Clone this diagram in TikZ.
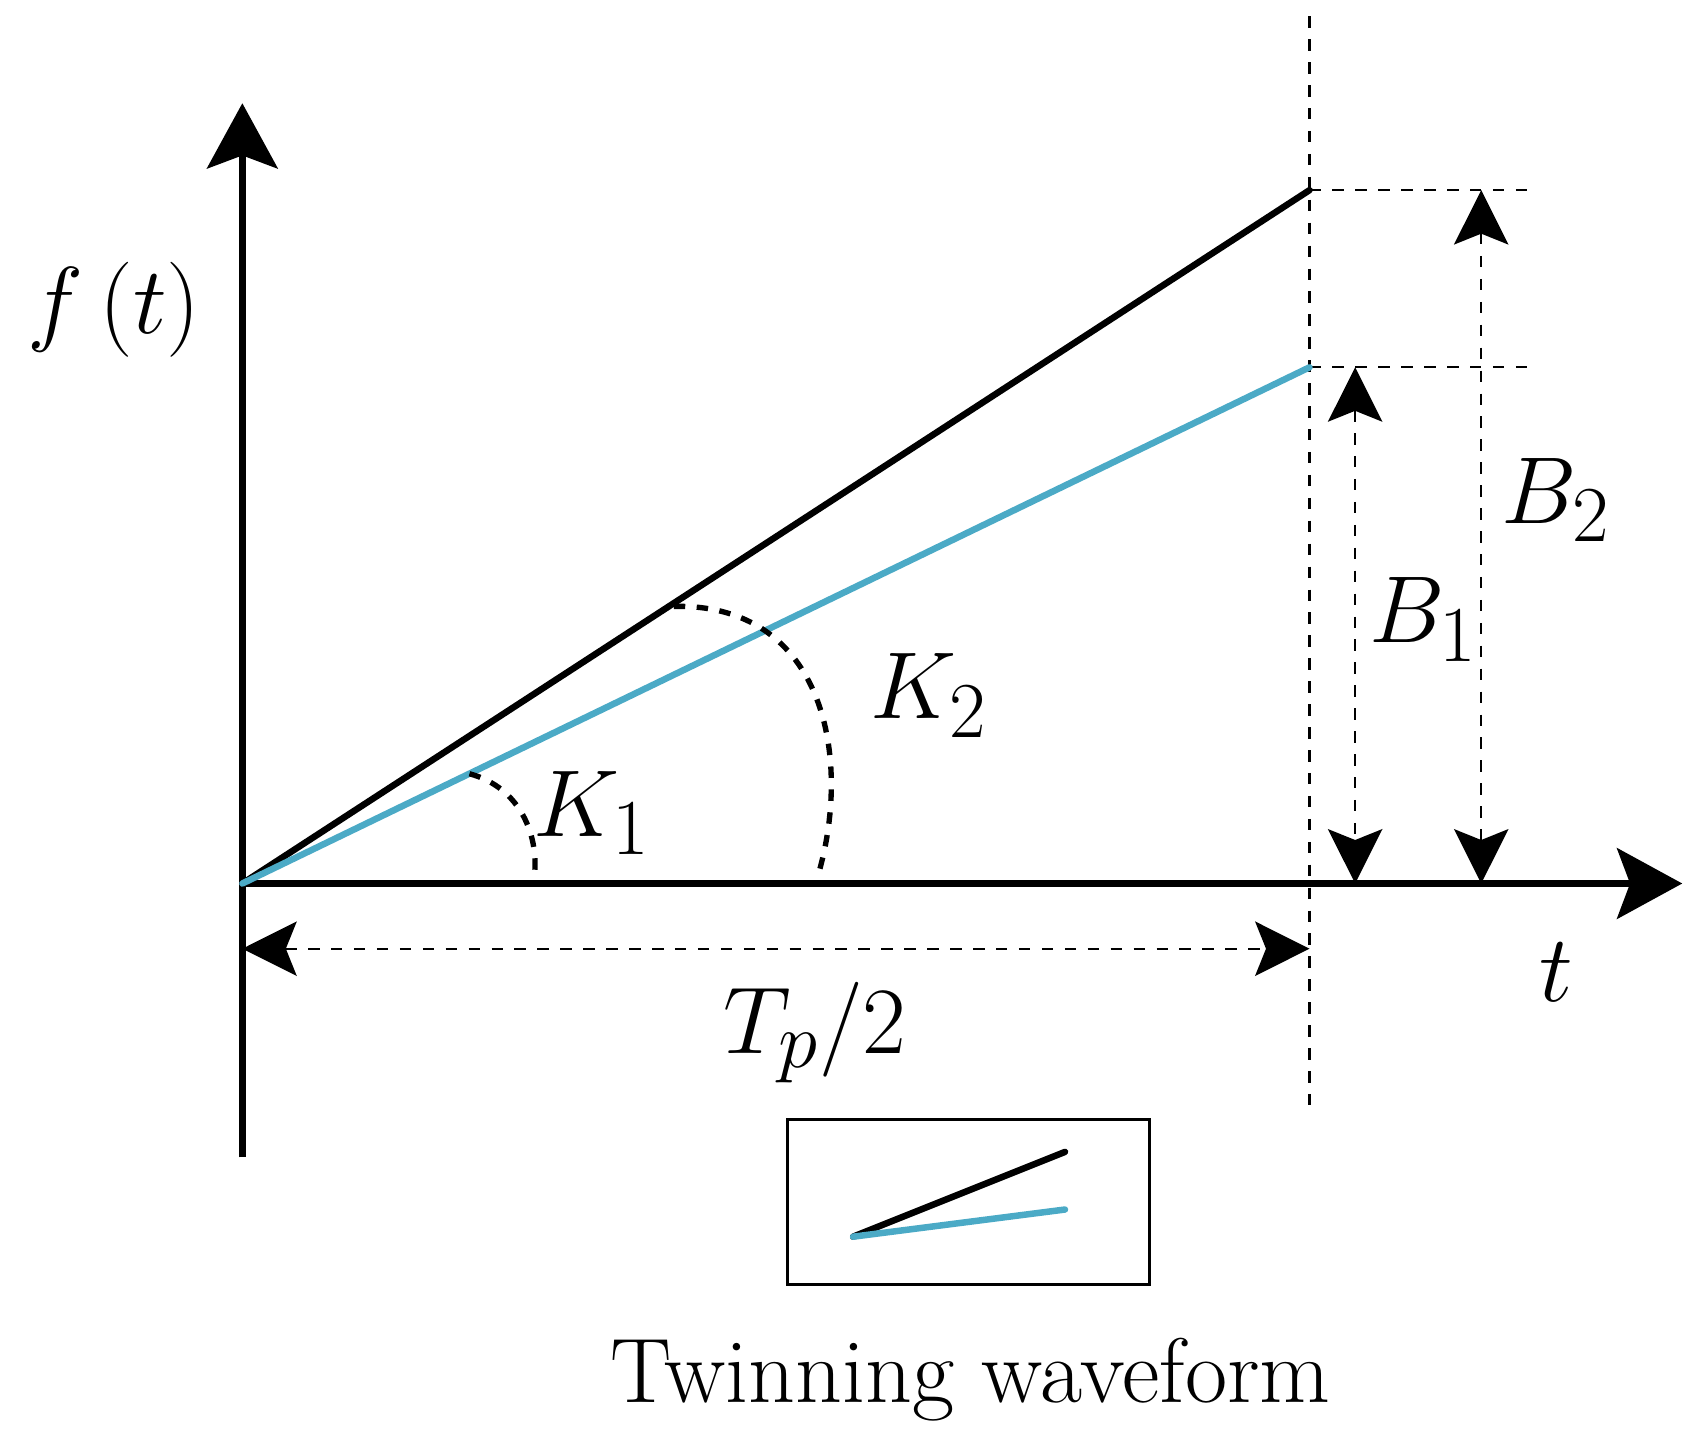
\documentclass[tikz,border=0pt]{standalone}
\usetikzlibrary{arrows.meta, positioning}
\definecolor{twinblue}{RGB}{75,170,198}

\begin{document}
\begin{tikzpicture}[x=0.01cm, y=-0.01cm,
		axis/.style={line width=1.7pt, -{Stealth[length=0.6cm, width=0.65cm, inset=0.12cm]}},
		dim/.style={dashed, line width=0.6pt, {Stealth[length=0.5cm, width=0.5cm, inset=0.1cm]}-{Stealth[length=0.5cm, width=0.5cm, inset=0.1cm]}},
		guide/.style={dashed, line width=0.6pt},
		angle/.style={line width=1.4pt, dash pattern=on 3pt off 3pt},
		lbl/.style={font=\fontsize{30}{36}\selectfont},
		every node/.style={inner sep=0pt}]
		\useasboundingbox (0,0) rectangle (1568,1325);
		
		\coordinate (O) at (223,813);
		\coordinate (ytop) at (223,95);
		\coordinate (ybot) at (223,1065);
		\coordinate (xend) at (1548,813);
		\coordinate (P2) at (1205,175);
		\coordinate (P1) at (1205,338);
		
		% guides
		\draw[guide] (1205,15) -- (1205,1020);
		\draw[guide] (P2) -- (1410,175);
		\draw[guide] (P1) -- (1410,338);
		
		% axes
		\draw[axis] (ybot) -- (ytop);
		\draw[axis] (O) -- (xend);
		
		% waveforms
		\draw[line width=1.7pt, line cap=round] (O) -- (P2);
		\draw[twinblue, line width=1.7pt, line cap=round] (O) -- (P1);
		
		% dimensions
		\draw[dim] (1247,338) -- (1247,813);
		\draw[dim] (1363,175) -- (1363,813);
		\draw[dim] (223,873) -- (1205,873);
		
		% angles
		\draw[angle] (432,712) .. controls (480,725) and (495,770) .. (492,803);
		\draw[angle] (620,558) .. controls (760,555) and (785,700) .. (752,808);
		
		% labels
		\node[lbl] (f) at (105,285) {$f\left(t\right)$};
		\node[lbl] (k1) at (545,748) {$K_1$};
		\node[lbl] (k2) at (855,640) {$K_2$};
		\node[lbl] (b1) at (1310,570) {$B_1$};
		\node[lbl] (b2) at (1432,460) {$B_2$};
		\node[lbl] (t) at (1432,895) {$t$};
		\node[lbl] (tp) at (750,950) {$T_p\big/2$};
		
		% legend
		\node[draw, line width=0.8pt, minimum width=3.33cm, minimum height=1.52cm] (legend) at (891.5,1106) {};
		\coordinate (L0) at (785,1138);
		\draw[line width=1.7pt, line cap=round] (L0) -- (980,1060);
		\draw[twinblue, line width=1.7pt, line cap=round] (L0) -- (980,1113);
		\node[font=\fontsize{24}{28}\selectfont] (cap) at (893,1270) {Twinning waveform};
\end{tikzpicture}
\end{document}
